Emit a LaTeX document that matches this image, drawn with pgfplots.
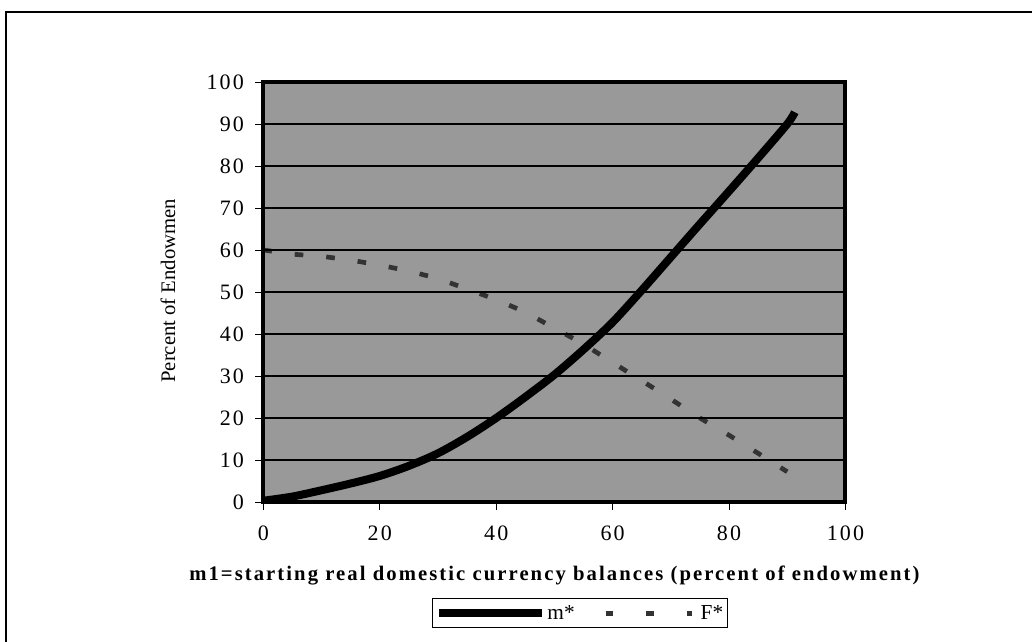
\documentclass[border=0pt]{standalone}
\usepackage{fontspec}
\setmainfont{Liberation Serif}
\usepackage{pgfplots}
\pgfplotsset{compat=1.18}

\begin{document}
\begin{tikzpicture}
\useasboundingbox (-197.5pt,-105pt) rectangle (576.5pt,376.5pt);
% outer frame (left and top edges only are visible)
\draw[line width=1pt] (-193pt,-120pt) -- (-193pt,367.5pt) -- (600pt,367.5pt);
\begin{axis}[
  at={(0,0)}, anchor=south west,
  scale only axis,
  width=436.6pt, height=315pt,
  xmin=0, xmax=100, ymin=0, ymax=100,
  xtick={0,20,...,100}, ytick={0,10,...,100},
  tick pos=left,
  tick align=outside,
  major tick length=6pt,
  tick style={black, line width=0.6pt},
  ymajorgrids,
  major grid style={black, line width=0.9pt},
  axis line style={line width=3pt, line join=miter},
  axis background/.style={fill=black!40},
  axis on top,
  /pgf/number format/assume math mode=true,
  ticklabel style={font=\fontsize{16.5}{19}\selectfont\addfontfeature{LetterSpace=10}},
  yticklabel style={xshift=-5pt},
  xticklabel style={yshift=-8pt},
  xlabel={m1=starting real domestic currency balances (percent of endowment)},
  xlabel style={font=\fontsize{15.5}{18}\selectfont\bfseries\addfontfeature{LetterSpace=10},
    at={(axis description cs:0.5,-0.186)}, anchor=base},
  ylabel={Percent of Endowmen},
  ylabel style={font=\fontsize{15.5}{18}\selectfont,
    at={(axis description cs:-0.164,0.503)}, anchor=center, rotate=0},
  legend columns=2,
  legend style={at={(axis description cs:0.544,-0.265)}, anchor=center,
    draw=black, line width=0.8pt, fill=white,
    inner xsep=2pt, inner ysep=4pt,
    font=\fontsize{16}{19}\selectfont,
    nodes={inner sep=1pt},
    /tikz/every even column/.append style={column sep=19pt}},
]
\addplot[black, line width=6pt, smooth,
  legend image code/.code={\draw[black, line width=6pt] (0pt,0pt) -- (77pt,0pt);}]
  coordinates {
  (0,0.3) (5,1.3) (10,2.8) (15,4.4) (20,6.2) (25,8.6) (30,11.6) (35,15.5)
  (40,20.0) (45,25.0) (50,30.3) (55,36.3) (60,42.8) (65,50.4) (70,58.3)
  (75,66.2) (80,74.0) (85,81.9) (90,90.0) (91.3,92.8)
};
\addlegendentry{m*}
\addplot[black!80, line width=3.5pt, dash pattern=on 6.5pt off 17.24pt,
  legend image code/.code={\draw[black!80, line width=3.5pt,
    dash pattern=on 0pt off 1.5pt on 5.5pt off 23.5pt] (0pt,0pt) -- (66pt,0pt);
    \path (0pt,0pt) (70pt,0pt);}]
  coordinates {
  (0,60) (5,59) (10,58.5) (15,57.6) (20,56.4) (25,55) (30,53.2) (35,50.7)
  (40,48.2) (45,45.2) (50,41.4) (55,37.6) (60,33.2) (65,28.9) (70,24.5)
  (75,20) (80,15.9) (85,11.6) (90,7.2)
};
\addlegendentry{F*}
\end{axis}
\end{tikzpicture}
\end{document}
